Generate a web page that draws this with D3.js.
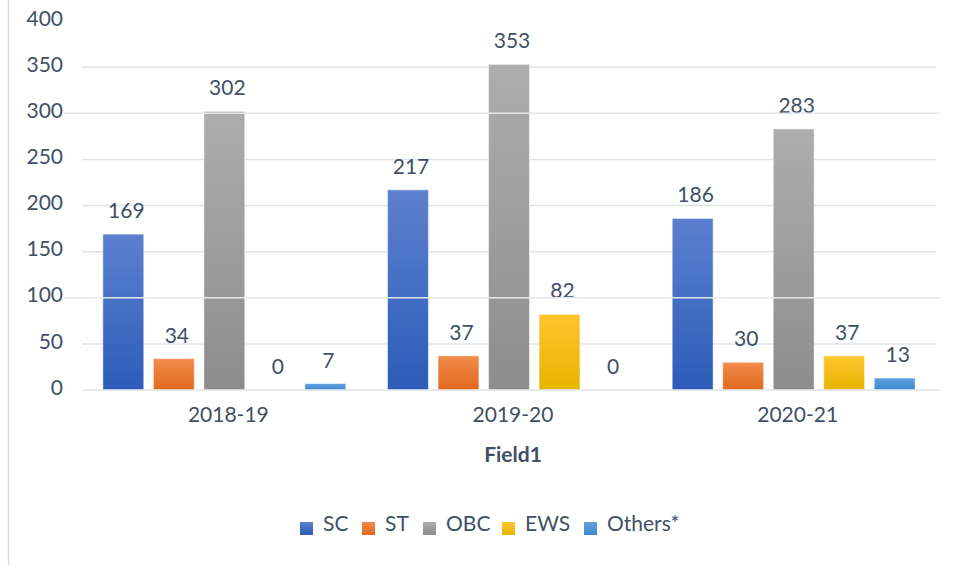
<!DOCTYPE html>
<html>
<head>
<meta charset="utf-8">
<script src="https://cdn.jsdelivr.net/npm/d3@7"></script>
<style>
  body { margin: 0; background: #fff; }
  svg { display: block; font-family: Lato, "Open Sans", sans-serif; }
</style>
</head>
<body>
<div id="container"></div>
<script>
// chart data
const categories = ["2018-19", "2019-20", "2020-21"];
const seriesNames = ["SC", "ST", "OBC", "EWS", "Others*"];
const scValues = [169, 217, 186];
const stValues = [34, 37, 30];
const obcValues = [302, 353, 283];
const ewsValues = [0, 82, 37];
const othersValues = [7, 0, 13];
const yTicks = [0, 50, 100, 150, 200, 250, 300, 350, 400];
const xTitle = "Field1";

const seriesValues = [scValues, stValues, obcValues, ewsValues, othersValues];
// top / bottom gradient colours per series
const colors = [
  ["#5c80cf", "#2c5cb8"],
  ["#f28b4b", "#e1691d"],
  ["#adadad", "#8d8d8d"],
  ["#ffc530", "#e6b400"],
  ["#62a2dd", "#3c87cf"]
];
const textColor = "#404f66";
const gridColor = "#dfe3e8";
const fontSize = "21px";

const width = 956, height = 565;
const plot = { left: 82, right: 936, top: 21, bottom: 390 };

const svg = d3.select("#container").append("svg")
  .attr("width", width)
  .attr("height", height);

svg.append("rect").attr("width", width).attr("height", height).attr("fill", "#fff");

const defs = svg.append("defs");
colors.forEach((c, i) => {
  const g = defs.append("linearGradient")
    .attr("id", "grad" + i)
    .attr("x1", 0).attr("y1", 0).attr("x2", 0).attr("y2", 1);
  g.append("stop").attr("offset", "0%").attr("stop-color", c[0]);
  g.append("stop").attr("offset", "100%").attr("stop-color", c[1]);
});

// left frame line
svg.append("line")
  .attr("x1", 8.5).attr("x2", 8.5)
  .attr("y1", 0).attr("y2", height)
  .attr("stroke", "#d6d9de").attr("stroke-width", 1.5);

const x0 = d3.scaleBand()
  .domain(categories)
  .range([plot.left, plot.right])
  .paddingInner(0).paddingOuter(0);

const x1 = d3.scaleBand()
  .domain(seriesNames)
  .range([0, x0.bandwidth()])
  .paddingInner(0.19)
  .paddingOuter(0.413);

const y = d3.scaleLinear()
  .domain([0, 400])
  .range([plot.bottom, plot.top]);

// gridlines behind bars
const backGrid = yTicks.filter(t => t > 0 && t < 400 && t !== 100 && t !== 300);
svg.append("g").selectAll("line")
  .data(backGrid)
  .join("line")
  .attr("x1", plot.left).attr("x2", plot.right)
  .attr("y1", d => y(d)).attr("y2", d => y(d))
  .attr("stroke", gridColor).attr("stroke-width", 1.5);

// bars
const groups = svg.append("g").selectAll("g")
  .data(categories)
  .join("g")
  .attr("transform", d => `translate(${x0(d)},0)`);

const cells = (d, ci) => seriesNames.map((s, si) => ({ s, si, v: seriesValues[si][ci] }));

groups.selectAll("rect")
  .data(cells)
  .join("rect")
  .attr("x", d => x1(d.s))
  .attr("width", x1.bandwidth())
  .attr("y", d => y(d.v))
  .attr("height", d => y(0) - y(d.v))
  .attr("fill", d => `url(#grad${d.si})`)
  .attr("stroke", "#ffffff")
  .attr("stroke-opacity", 0.5)
  .attr("stroke-width", d => d.v > 0 ? 1 : 0);

// data labels
groups.selectAll("text")
  .data(cells)
  .join("text")
  .attr("x", d => x1(d.s) + x1.bandwidth() / 2 + 3)
  .attr("y", d => y(d.v) - 16)
  .attr("text-anchor", "middle")
  .attr("font-size", fontSize)
  .attr("fill", textColor)
  .text(d => d.v);

// gridlines drawn over the bars (100 and 300)
svg.append("g").selectAll("line")
  .data([100, 300])
  .join("line")
  .attr("x1", 64).attr("x2", 940)
  .attr("y1", d => y(d)).attr("y2", d => y(d))
  .attr("stroke", "#e4e7eb").attr("stroke-width", 1.5);

// baseline
svg.append("line")
  .attr("x1", plot.left).attr("x2", 940)
  .attr("y1", y(0)).attr("y2", y(0))
  .attr("stroke", gridColor).attr("stroke-width", 1.5);

// y axis labels
const yAxis = svg.append("g")
  .attr("transform", `translate(63,0)`)
  .call(d3.axisLeft(y).tickValues(yTicks).tickSize(0).tickPadding(0));
yAxis.select(".domain").remove();
yAxis.selectAll("text")
  .attr("font-size", fontSize)
  .attr("font-family", "Lato, 'Open Sans', sans-serif")
  .attr("fill", textColor)
  .attr("dy", "0.2em");

// x axis labels
const xAxis = svg.append("g")
  .attr("transform", `translate(4,${plot.bottom + 17})`)
  .call(d3.axisBottom(x0).tickSize(0).tickPadding(0));
xAxis.select(".domain").remove();
xAxis.selectAll("text")
  .attr("font-size", fontSize)
  .attr("font-family", "Lato, 'Open Sans', sans-serif")
  .attr("fill", textColor);

// x title
svg.append("text")
  .attr("x", 513)
  .attr("y", 462)
  .attr("text-anchor", "middle")
  .attr("font-size", fontSize)
  .attr("font-weight", "bold")
  .attr("fill", textColor)
  .text(xTitle);

// legend
const legendX = [300, 362, 423, 502, 584];
const legend = svg.append("g");
const items = legend.selectAll("g")
  .data(seriesNames)
  .join("g")
  .attr("transform", (d, i) => `translate(${legendX[i]},0)`);
items.append("rect")
  .attr("x", 0).attr("y", 522)
  .attr("width", 13).attr("height", 13)
  .attr("fill", (d, i) => `url(#grad${i})`);
items.append("text")
  .attr("x", 23).attr("y", 531)
  .attr("font-size", fontSize)
  .attr("fill", textColor)
  .text(d => d);
</script>
</body>
</html>
